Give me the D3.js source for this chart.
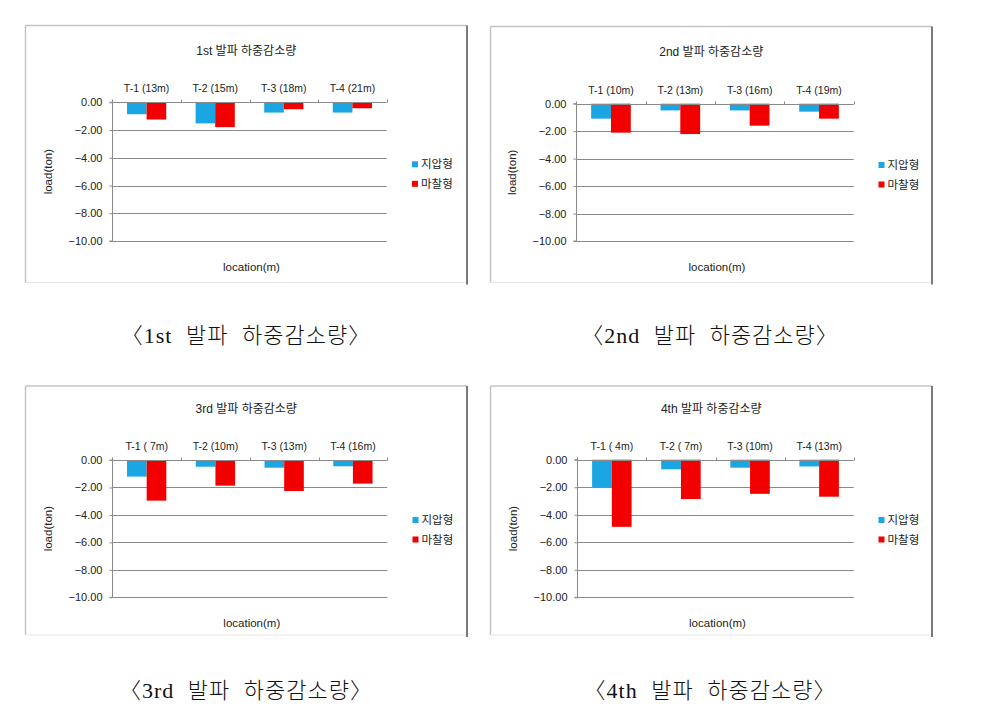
<!DOCTYPE html>
<html>
<head>
<meta charset="utf-8">
<script src="https://cdn.jsdelivr.net/npm/d3@7"></script>
<style>
  html, body { margin: 0; padding: 0; background: #ffffff; }
  svg { display: block; }
  .chart-text { font-family: "Liberation Sans", Arial, "Noto Sans CJK KR", sans-serif; fill: #222; }
  .caption { font-family: "Liberation Serif", "Noto Sans CJK KR", serif; fill: #111; font-weight: 300; }
</style>
</head>
<body>
<svg id="fig" width="981" height="726"></svg>
<script>
// ---------------- data ----------------
const seriesNames = ["지압형", "마찰형"];
const yTicks = [0, -2, -4, -6, -8, -10];

const titles = ["1st 발파 하중감소량", "2nd 발파 하중감소량", "3rd 발파 하중감소량", "4th 발파 하중감소량"];
const captions = ["〈1st 발파 하중감소량〉", "〈2nd 발파 하중감소량〉", "〈3rd 발파 하중감소량〉", "〈4th 발파 하중감소량〉"];

const categories1 = ["T-1 (13m)", "T-2 (15m)", "T-3 (18m)", "T-4 (21m)"];
const categories2 = ["T-1 (10m)", "T-2 (13m)", "T-3 (16m)", "T-4 (19m)"];
const categories3 = ["T-1 ( 7m)", "T-2 (10m)", "T-3 (13m)", "T-4 (16m)"];
const categories4 = ["T-1 ( 4m)", "T-2 ( 7m)", "T-3 (10m)", "T-4 (13m)"];

const pressure1 = [-0.86, -1.52, -0.74, -0.74];
const friction1 = [-1.24, -1.79, -0.50, -0.43];
const pressure2 = [-1.09, -0.49, -0.49, -0.58];
const friction2 = [-2.11, -2.21, -1.60, -1.09];
const pressure3 = [-1.21, -0.49, -0.56, -0.46];
const friction3 = [-2.96, -1.87, -2.26, -1.72];
const pressure4 = [-2.01, -0.70, -0.58, -0.49];
const friction4 = [-4.88, -2.86, -2.48, -2.69];

const categoriesList = [categories1, categories2, categories3, categories4];
const pressureList = [pressure1, pressure2, pressure3, pressure4];
const frictionList = [friction1, friction2, friction3, friction4];

// ---------------- layout (positions only) ----------------
const layouts = [
  { bx: 25.5, by: 25.5, bw: 441.5, bh: 257, pl: 112.3, pr: 386.7, y0: 102.3, y1: 241.0, legX: 412, legY: 164.3, capX: 246, capY: 335, titleY: 50.5 },
  { bx: 490.5, by: 26.5, bw: 441.5, bh: 256, pl: 576.3, pr: 853.7, y0: 103.7, y1: 241.0, legX: 878.5, legY: 165, capX: 710, capY: 335, titleY: 51.7 },
  { bx: 25.5, by: 386, bw: 441.5, bh: 249, pl: 112.3, pr: 387.3, y0: 460.0, y1: 597.3, legX: 412.5, legY: 520, capX: 246, capY: 690, titleY: 408.3 },
  { bx: 490.5, by: 386, bw: 441.5, bh: 249, pl: 577.3, pr: 853.7, y0: 459.7, y1: 597.3, legX: 878.5, legY: 520, capX: 710, capY: 690, titleY: 408.3 }
];

const colors = ["#1aa6e2", "#f20000"];
const gridColor = "#8a8a8a";

const svg = d3.select("#fig");

layouts.forEach((L, i) => {
  const cats = categoriesList[i];
  const vals = [pressureList[i], frictionList[i]];
  const g = svg.append("g");

  // panel frame
  g.append("line").attr("x1", L.bx).attr("x2", L.bx + L.bw).attr("y1", L.by).attr("y2", L.by)
    .attr("stroke", "#c4c4c4").attr("stroke-width", 1.5);
  g.append("line").attr("x1", L.bx).attr("x2", L.bx).attr("y1", L.by).attr("y2", L.by + L.bh)
    .attr("stroke", "#c4c4c4").attr("stroke-width", 1.5);
  g.append("line").attr("x1", L.bx).attr("x2", L.bx + L.bw).attr("y1", L.by + L.bh).attr("y2", L.by + L.bh)
    .attr("stroke", "#e6e6e6").attr("stroke-width", 1);
  g.append("line").attr("x1", L.bx + L.bw).attr("x2", L.bx + L.bw).attr("y1", L.by).attr("y2", L.by + L.bh + 2)
    .attr("stroke", "#7a7a7a").attr("stroke-width", 2);

  const x = d3.scaleBand().domain(cats).range([L.pl, L.pr]).paddingInner(0).paddingOuter(0);
  const xs = d3.scaleBand().domain(seriesNames).range([0, x.bandwidth()]).paddingInner(0).paddingOuter(0.75);
  const y = d3.scaleLinear().domain([0, -10]).range([L.y0, L.y1]);

  // gridlines
  g.append("g").selectAll("line").data(yTicks.slice(1)).join("line")
    .attr("x1", L.pl).attr("x2", L.pr)
    .attr("y1", d => Math.round(y(d)) + 0.5).attr("y2", d => Math.round(y(d)) + 0.5)
    .attr("stroke", gridColor).attr("stroke-width", 1);

  // y axis
  const yAxis = d3.axisLeft(y).tickValues(yTicks).tickSize(3).tickPadding(7).tickFormat(d3.format(".2f"));
  const ya = g.append("g").attr("transform", `translate(${Math.round(L.pl) + 0.5},0)`).call(yAxis);
  ya.select(".domain").attr("stroke", gridColor).attr("d", `M-3,${y(0)}H0V${y(-10)}H-3`);
  ya.selectAll(".tick line").attr("stroke", gridColor);
  ya.selectAll(".tick text").attr("class", "chart-text").style("font-size", "11px").attr("fill", "#222");

  // bars
  seriesNames.forEach((s, si) => {
    g.append("g").selectAll("rect").data(cats.map((c, ci) => ({ c, v: vals[si][ci] }))).join("rect")
      .attr("x", d => x(d.c) + xs(s))
      .attr("width", xs.bandwidth())
      .attr("y", y(0))
      .attr("height", d => y(d.v) - y(0))
      .attr("fill", colors[si]);
  });

  // category axis at zero (labels on top)
  const xAxis = d3.axisTop(x).tickSize(0).tickPadding(0);
  const xa = g.append("g").attr("transform", `translate(0,${Math.round(y(0)) + 0.5})`).call(xAxis);
  xa.select(".domain").attr("stroke", gridColor).attr("d", `M${L.pl},0H${L.pr}`);
  xa.selectAll(".tick text").attr("class", "chart-text").style("font-size", "10.5px")
    .attr("y", -14).attr("dy", "0.35em").attr("fill", "#222").style("white-space", "pre");
  // category boundary ticks
  const bounds = cats.map(c => x(c)).concat([x(cats[cats.length - 1]) + x.bandwidth()]);
  xa.append("g").selectAll("line").data(bounds).join("line")
    .attr("x1", d => Math.round(d) + 0.5).attr("x2", d => Math.round(d) + 0.5)
    .attr("y1", 0).attr("y2", -3).attr("stroke", gridColor);

  // title
  g.append("text").attr("class", "chart-text").attr("x", L.bx + L.bw / 2).attr("y", L.titleY)
    .attr("text-anchor", "middle").attr("dy", "0.35em").style("font-size", "12px").text(titles[i]);

  // axis titles
  g.append("text").attr("class", "chart-text")
    .attr("transform", `translate(${L.pl - 64},${(L.y0 + L.y1) / 2}) rotate(-90)`)
    .attr("text-anchor", "middle").attr("dy", "0.35em").style("font-size", "11.5px").text("load(ton)");
  g.append("text").attr("class", "chart-text").attr("x", (L.pl + L.pr) / 2 + 2).attr("y", L.y1 + 25.5)
    .attr("text-anchor", "middle").attr("dy", "0.35em").style("font-size", "11.5px").text("location(m)");

  // legend
  seriesNames.forEach((s, si) => {
    const ly = L.legY + si * 19.5;
    g.append("rect").attr("x", L.legX).attr("y", ly - 3).attr("width", 6).attr("height", 6).attr("fill", colors[si]);
    g.append("text").attr("class", "chart-text").attr("x", L.legX + 9).attr("y", ly)
      .attr("dy", "0.35em").style("font-size", "11.5px").text(s);
  });

  // caption below panel
  svg.append("text").attr("class", "caption").attr("x", L.capX).attr("y", L.capY)
    .attr("text-anchor", "middle").attr("dy", "0.36em").style("font-size", "22px")
    .style("letter-spacing", "1px").style("word-spacing", "7px").text(captions[i]);
});
</script>
</body>
</html>
